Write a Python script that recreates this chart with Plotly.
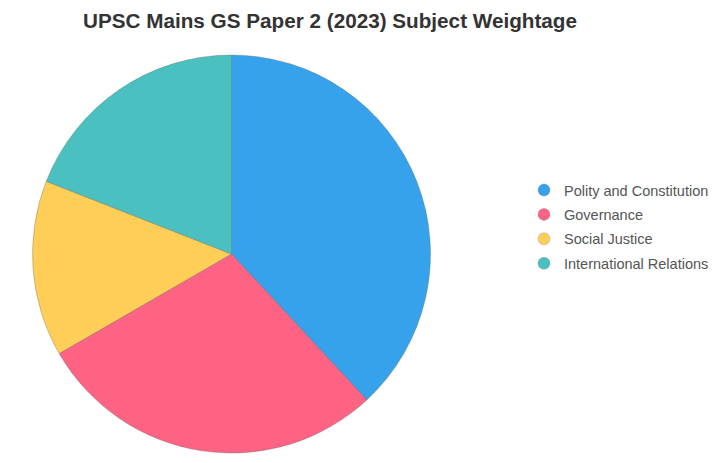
import plotly.graph_objects as go

# Dados
subjects = ['Polity and Constitution', 'Governance', 'Social Justice', 'International Relations']
questions = [8, 6, 3, 4]
colors = ['#36A2EB', '#FF6384', '#FFCE56', '#4BC0C0']

W, H = 723, 463
OFF = 8  # margem do body da página

fig = go.Figure()

# pizza sem legenda própria
fig.add_trace(go.Pie(
    labels=subjects, values=questions, sort=False, direction='clockwise',
    rotation=0, textinfo='none', showlegend=False, hoverinfo='label+value',
    marker=dict(colors=colors, line=dict(color='rgba(90,90,90,0.45)', width=0.7)),
    domain=dict(x=[(32 - OFF) / W, (431 - OFF) / W],
                y=[1 - (453 - OFF) / H, 1 - (55 - OFF) / H]),
))

# legenda com círculos
for i, (name, cor) in enumerate(zip(subjects, colors)):
    fig.add_trace(go.Scatter(
        x=[None], y=[None], mode='markers', name=name, legendgroup=str(i),
        marker=dict(symbol='circle', size=12, color=cor,
                    line=dict(color='rgba(90,90,90,0.35)', width=0.7)),
    ))

fig.update_layout(
    width=W, height=H,
    margin=dict(l=0, r=0, t=0, b=0),
    paper_bgcolor='white', plot_bgcolor='white',
    title=dict(text='<b>UPSC Mains GS Paper 2 (2023) Subject Weightage</b>',
               x=(330 - OFF) / W, xanchor='center', y=1 - (21 - OFF) / H, yanchor='middle',
               font=dict(family='Liberation Sans, Arial, sans-serif', size=20.7, color='#333333')),
    xaxis=dict(visible=False), yaxis=dict(visible=False),
    legend=dict(x=516 / W, xanchor='left', y=1 - 166 / H, yanchor='top',
                font=dict(family='Liberation Sans, Arial, sans-serif', size=14.5, color='#555555'),
                tracegroupgap=2.6, bgcolor='rgba(0,0,0,0)'),
)

fig.write_html('out.html')
